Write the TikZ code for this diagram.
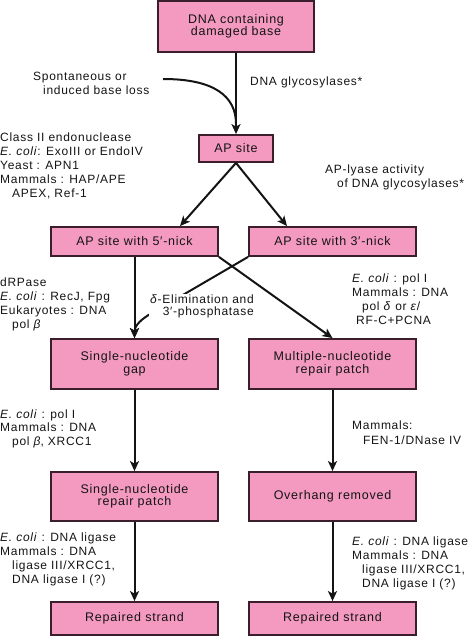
\documentclass[tikz,border=0pt]{standalone}
\usepackage{fontspec}
\setmainfont{Liberation Sans}[LetterSpace=6]
\usetikzlibrary{positioning,arrows.meta}
\definecolor{BoxPink}{HTML}{F49AC1}
\definecolor{BoxBorder}{HTML}{3A1E2C}
\definecolor{InkDark}{HTML}{141414}

\begin{document}
\begin{tikzpicture}[x=1pt,y=-1pt,
  stepbox/.style={draw=BoxBorder, fill=BoxPink, line width=1.8pt, inner sep=0pt,
    align=center, text=InkDark, font=\fontsize{12.5}{12.5}\selectfont},
  pathbox/.style={stepbox, minimum width=167pt},
  note/.style={anchor=north west, inner sep=0pt, align=left, text=InkDark, yshift=-1.5pt,
    font=\fontsize{12}{14}\selectfont},
  flow/.style={line width=2pt, draw=InkDark, -{Stealth[length=10pt,width=9pt,inset=2.5pt]}}]
  \useasboundingbox (0,0) rectangle (474,636);

  % Boxes
  \node[stepbox, minimum width=156pt, minimum height=51pt] (dna) at (236,26.5) {DNA containing\\damaged base};
  \node[stepbox, minimum width=74pt, minimum height=27pt] (ap) at (236,148.5) {AP site};
  \node[pathbox, minimum height=29pt] (nickfive) at (134.5,241.5) {AP site with 5′-nick};
  \node[pathbox, minimum height=29pt] (nickthree) at (332.5,241.5) {AP site with 3′-nick};
  \node[pathbox, minimum height=50pt] (gap) at (134.5,364) {Single-nucleotide\\gap};
  \node[pathbox, minimum height=50pt] (multi) at (332.5,364) {Multiple-nucleotide\\repair patch};
  \node[pathbox, minimum height=49pt] (patch) at (134.5,496.5) {Single-nucleotide\\repair patch};
  \node[pathbox, minimum height=49pt] (overhang) at (332.5,496.5) {Overhang removed};
  \node[pathbox, minimum height=33pt] (strandl) at (134.5,618.5) {Repaired strand};
  \node[pathbox, minimum height=33pt] (strandr) at (332.5,618.5) {Repaired strand};

  % Glycosylase step and base loss
  \draw[flow] (dna.south) -- (ap.north);
  \coordinate (lossstart) at (163,79);
  \coordinate (lossjoin) at (236,124);
  \draw[line width=2pt, draw=InkDark] (lossstart) .. controls (214,79) and (236,96) .. (lossjoin);
  \node[note] (spont) at (33,70) {Spontaneous or\\\hspace*{10pt}induced base loss};
  \node[note] (glyco) at (250,75) {DNA glycosylases*};

  % Incision
  \draw[flow] (ap.south) -- ([xshift=45.5pt]nickfive.north);
  \draw[flow] (ap.south) -- ([xshift=-45.5pt]nickthree.north);
  \node[note] (classii) at (0,131) {Class II endonuclease\\\textit{E. coli}: ExoIII or EndoIV\\Yeast : APN1\\Mammals : HAP/APE\\\hspace*{12pt}APEX, Ref-1};
  \node[note] (lyase) at (325,163) {AP-lyase activity\\\hspace*{12pt}of DNA glycosylases*};

  % End processing
  \draw[flow] (nickfive.south) -- (gap.north);
  \draw[flow] (nickfive.south east) -- (multi.north);
  \coordinate (elimbend) at (152,313);
  \draw[flow] (nickthree.south west) -- (elimbend) .. controls (141,319) and (134.5,326) .. (gap.north);
  \node[note, anchor=north east, align=right, fill=white, inner sep=1pt,
    font=\fontsize{12}{12.5}\selectfont] (elim) at (255,292) {\textit{δ}-Elimination and\\3′-phosphatase};
  \node[note] (drpase) at (0,276) {dRPase\\\textit{E. coli} : RecJ, Fpg\\Eukaryotes : DNA\\\hspace*{12pt}pol \textit{β}};
  \node[note] (poldelta) at (352,272) {\textit{E. coli} : pol I\\Mammals : DNA\\\hspace*{10pt}pol \textit{δ} or \textit{ε}/\\\hspace*{4pt}RF-C+PCNA};

  % Repair synthesis
  \draw[flow] (gap.south) -- (patch.north);
  \draw[flow] (multi.south) -- (overhang.north);
  \node[note, font=\fontsize{12}{13.5}\selectfont] (polbeta) at (0,408) {\textit{E. coli} : pol I\\Mammals : DNA\\\hspace*{12pt}pol \textit{β}, XRCC1};
  \node[note, font=\fontsize{12}{15}\selectfont] (fen) at (352,419) {Mammals:\\\hspace*{11pt}FEN-1/DNase IV};

  % Ligation
  \draw[flow] (patch.south) -- (strandl.north);
  \draw[flow] (overhang.south) -- (strandr.north);
  \node[note] (ligl) at (0,531) {\textit{E. coli} : DNA ligase\\Mammals : DNA\\\hspace*{12pt}ligase III/XRCC1,\\\hspace*{12pt}DNA ligase I (?)};
  \node[note] (ligr) at (352,535) {\textit{E. coli} : DNA ligase\\Mammals : DNA\\\hspace*{10pt}ligase III/XRCC1,\\\hspace*{10pt}DNA ligase I (?)};
\end{tikzpicture}
\end{document}
